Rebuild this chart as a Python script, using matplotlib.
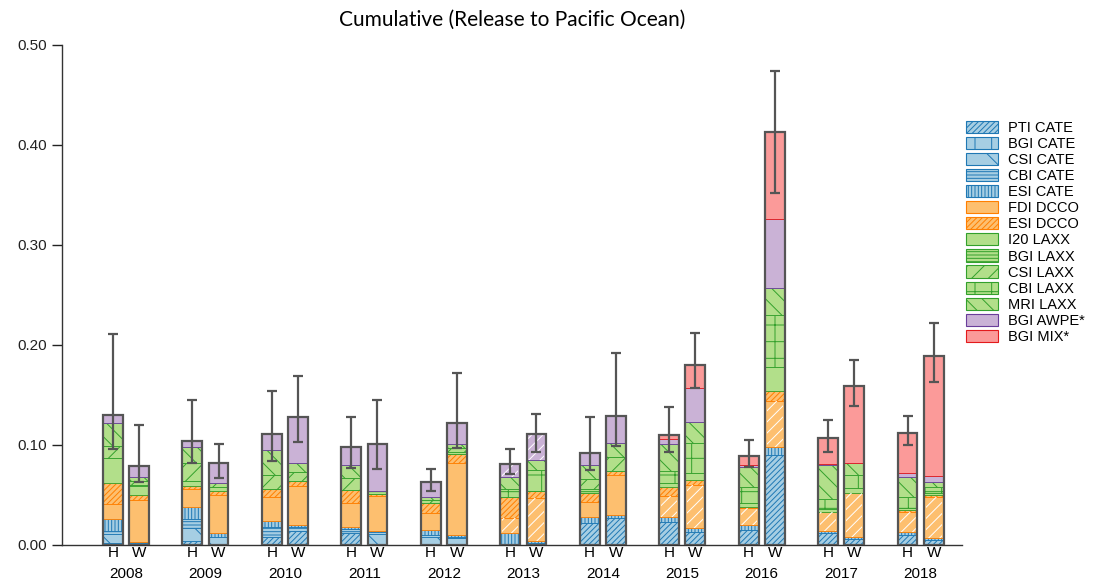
import numpy as np
import matplotlib
matplotlib.use("Agg")
import matplotlib.pyplot as plt
from matplotlib.patches import Patch

plt.rcParams['font.family'] = ['Liberation Sans', 'DejaVu Sans']
plt.rcParams['hatch.linewidth'] = 0.7

years = ["2008", "2009", "2010", "2011", "2012", "2013", "2014", "2015", "2016", "2017", "2018"]
sites = ["H", "W"]

# bars ordered 2008H, 2008W, 2009H, 2009W, ... 2018H, 2018W
pti_cate = [0.002, 0.002, 0.004, 0.001, 0.008, 0.014, 0.012, 0.000, 0.000, 0.000, 0.000,
            0.002, 0.022, 0.027, 0.023, 0.013, 0.015, 0.090, 0.012, 0.006, 0.010, 0.005]
bgi_cate = [0.0] * 22
csi_cate = [0.009, 0.000, 0.013, 0.007, 0.000, 0.000, 0.000, 0.011, 0.008, 0.007, 0.000,
            0.000, 0.000, 0.000, 0.000, 0.000, 0.000, 0.000, 0.000, 0.000, 0.000, 0.000]
cbi_cate = [0.003, 0.000, 0.009, 0.000, 0.010, 0.004, 0.004, 0.002, 0.002, 0.001, 0.000,
            0.000, 0.000, 0.000, 0.000, 0.000, 0.000, 0.000, 0.000, 0.000, 0.000, 0.000]
esi_cate = [0.012, 0.001, 0.012, 0.004, 0.006, 0.002, 0.002, 0.001, 0.005, 0.002, 0.012,
            0.002, 0.006, 0.003, 0.005, 0.004, 0.005, 0.008, 0.002, 0.002, 0.003, 0.002]
fdi_dcco = [0.015, 0.042, 0.018, 0.038, 0.024, 0.039, 0.024, 0.035, 0.017, 0.072, 0.015,
            0.043, 0.015, 0.040, 0.021, 0.043, 0.017, 0.046, 0.019, 0.044, 0.020, 0.041]
esi_dcco = [0.021, 0.005, 0.003, 0.004, 0.008, 0.005, 0.013, 0.002, 0.010, 0.009, 0.021,
            0.007, 0.009, 0.004, 0.009, 0.005, 0.001, 0.010, 0.000, 0.000, 0.002, 0.002]
i20_laxx = [0.025, 0.009, 0.005, 0.004, 0.000, 0.000, 0.000, 0.000, 0.000, 0.000, 0.000,
            0.000, 0.000, 0.000, 0.004, 0.007, 0.004, 0.024, 0.003, 0.005, 0.002, 0.002]
bgi_laxx = [0.000, 0.001, 0.000, 0.000, 0.000, 0.000, 0.000, 0.003, 0.000, 0.002, 0.000,
            0.000, 0.004, 0.000, 0.000, 0.000, 0.000, 0.000, 0.000, 0.000, 0.000, 0.000]
csi_laxx = [0.012, 0.004, 0.018, 0.004, 0.014, 0.009, 0.012, 0.000, 0.003, 0.004, 0.000,
            0.000, 0.010, 0.014, 0.000, 0.000, 0.000, 0.000, 0.000, 0.000, 0.000, 0.000]
cbi_laxx = [0.000, 0.000, 0.000, 0.000, 0.000, 0.000, 0.000, 0.000, 0.000, 0.000, 0.008,
            0.021, 0.000, 0.000, 0.012, 0.030, 0.016, 0.052, 0.010, 0.013, 0.011, 0.006]
mri_laxx = [0.023, 0.004, 0.016, 0.000, 0.025, 0.009, 0.013, 0.000, 0.003, 0.004, 0.012,
            0.010, 0.014, 0.014, 0.027, 0.021, 0.020, 0.027, 0.034, 0.012, 0.020, 0.005]
bgi_awpe = [0.008, 0.011, 0.006, 0.020, 0.016, 0.046, 0.018, 0.047, 0.015, 0.021, 0.013,
            0.026, 0.012, 0.027, 0.005, 0.034, 0.002, 0.069, 0.001, 0.000, 0.004, 0.006]
bgi_mix = [0.000, 0.000, 0.000, 0.000, 0.000, 0.000, 0.000, 0.000, 0.000, 0.000, 0.000,
           0.000, 0.000, 0.000, 0.004, 0.023, 0.009, 0.087, 0.026, 0.077, 0.040, 0.120]

err_lo = [0.096, 0.063, 0.082, 0.067, 0.084, 0.103, 0.077, 0.076, 0.054, 0.097, 0.071,
          0.093, 0.075, 0.099, 0.093, 0.157, 0.078, 0.352, 0.093, 0.139, 0.100, 0.163]
err_hi = [0.211, 0.120, 0.145, 0.101, 0.154, 0.169, 0.128, 0.145, 0.076, 0.172, 0.096,
          0.131, 0.128, 0.192, 0.138, 0.212, 0.105, 0.474, 0.125, 0.185, 0.129, 0.222]

# years where FDI / AWPE segments carry the white hatch marking
fdi_marked = ["2013", "2015", "2016", "2017", "2018"]
awpe_marked = ["2013"]

series = [
    ("PTI CATE", pti_cate, "#a6cee3", "#1f78b4", "//////"),
    ("BGI CATE", bgi_cate, "#a6cee3", "#1f78b4", "|"),
    ("CSI CATE", csi_cate, "#a6cee3", "#1f78b4", "\\"),
    ("CBI CATE", cbi_cate, "#a6cee3", "#1f78b4", "-----"),
    ("ESI CATE", esi_cate, "#a6cee3", "#1f78b4", "|||||"),
    ("FDI DCCO", fdi_dcco, "#fdbf6f", "#ff7f00", ""),
    ("ESI DCCO", esi_dcco, "#fdbf6f", "#ff7f00", "//////"),
    ("I20 LAXX", i20_laxx, "#b2df8a", "#33a02c", ""),
    ("BGI LAXX", bgi_laxx, "#b2df8a", "#33a02c", "-----"),
    ("CSI LAXX", csi_laxx, "#b2df8a", "#33a02c", "//"),
    ("CBI LAXX", cbi_laxx, "#b2df8a", "#33a02c", "+"),
    ("MRI LAXX", mri_laxx, "#b2df8a", "#33a02c", "\\\\"),
    ("BGI AWPE*", bgi_awpe, "#cab2d6", "#6a3d9a", ""),
    ("BGI MIX*", bgi_mix, "#fb9a99", "#e31a1c", ""),
]

centers = np.arange(len(years))
offset = 0.165
width = 0.25
xpos = np.ravel([[c - offset, c + offset] for c in centers])
bar_year = np.repeat(years, 2)

fig = plt.figure(figsize=(10.96, 5.84), dpi=100)
ax = fig.add_axes([62 / 1096, 1 - 545 / 584, 900 / 1096, 500 / 584])

bottom = np.zeros(len(xpos))
legend_handles = []
for name, vals, face, edge, hatch in series:
    vals = np.array(vals)
    ax.bar(xpos, vals, width, bottom=bottom, color=face, edgecolor=edge,
           hatch=hatch, linewidth=0.6, zorder=2)
    marked = fdi_marked if name == "FDI DCCO" else awpe_marked if name == "BGI AWPE*" else []
    if marked:
        m = np.isin(bar_year, marked)
        ax.bar(xpos[m], vals[m], width * 0.8, bottom=bottom[m], color="none",
               edgecolor="white", hatch="///", linewidth=0, zorder=3)
    bottom = bottom + vals
    legend_handles.append(Patch(facecolor=face, edgecolor=edge, hatch=hatch, linewidth=0.8, label=name))

totals = bottom
ax.bar(xpos, totals, width, fill=False, edgecolor="#555555", linewidth=1.6, zorder=4)
yerr = [totals - np.array(err_lo), np.array(err_hi) - totals]
ax.errorbar(xpos, totals, yerr=yerr, fmt="none", ecolor="#555555", elinewidth=1.6,
            capsize=3.5, capthick=1.6, zorder=5)

ax.set_xlim(-0.805, 10.52)
ax.set_ylim(0, 0.5)
ax.set_yticks([0, 0.1, 0.2, 0.3, 0.4, 0.5])
ax.set_yticklabels(["0.00", "0.10", "0.20", "0.30", "0.40", "0.50"])
ax.set_xticks(xpos)
ax.set_xticklabels(sites * len(years))
ax.set_xticks(centers, minor=True)
ax.set_xticklabels(years, minor=True)
ax.tick_params(axis="x", which="major", length=0, pad=1, labelsize=11)
ax.tick_params(axis="x", which="minor", length=0, pad=16, labelsize=11)
ax.tick_params(axis="y", length=7, width=1, labelsize=11, colors="#222222")
ax.spines["top"].set_visible(False)
ax.spines["right"].set_visible(False)
for s in ["left", "bottom"]:
    ax.spines[s].set_color("#333333")
    ax.spines[s].set_linewidth(1)

ax.set_title("Cumulative (Release to Pacific Ocean)", fontsize=15, family=["Lato", "DejaVu Sans"], pad=14)

fig.legend(handles=legend_handles, loc="upper left", bbox_to_anchor=(966 / 1096, 1 - 121 / 584),
           frameon=False, fontsize=10.5, handlelength=2.2, handleheight=0.9,
           labelspacing=0.135, handletextpad=0.7, borderpad=0, borderaxespad=0)

fig.savefig("out.png", dpi=100)
